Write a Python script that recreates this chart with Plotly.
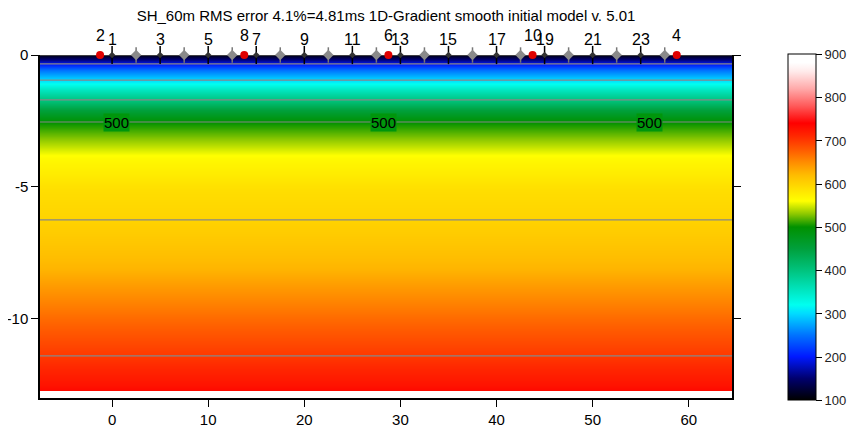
import plotly.graph_objects as go

# ---------------- data ----------------
title_text = "SH_60m RMS error 4.1%=4.81ms 1D-Gradient smooth initial model v. 5.01"

# 1D velocity profile (depth in m, velocity in m/s)
depths = [0.0, -0.12, -0.34, -0.57, -0.95, -1.30, -1.70, -2.10, -2.54, -3.20, -3.90,
          -5.10, -6.25, -7.20, -8.10, -8.70, -10.0, -11.40, -11.90, -12.50, -12.65]
velocities = [110, 140, 200, 250, 300, 350, 400, 450, 500, 530, 565,
              590, 600, 612, 625, 640, 670, 700, 712, 726, 732]
profile_x = [-7.5, 64.5]

contour_levels = [200, 300, 400, 500, 600, 700]
label_level = 500
label_x = [0.5, 28.2, 55.9]

# receivers (labeled odd numbers, unlabeled even numbers)
rec_lab_x = [0, 5, 10, 15, 20, 25, 30, 35, 40, 45, 50, 55]
rec_lab_text = ["1", "3", "5", "7", "9", "11", "13", "15", "17", "19", "21", "23"]
rec_unl_x = [2.5, 7.5, 12.5, 17.5, 22.5, 27.5, 32.5, 37.5, 42.5, 47.5, 52.5, 57.5]

# shots
shot_x = [-1.25, 13.75, 28.75, 43.75, 58.75]
shot_text = ["2", "8", "6", "10", "4"]

x_tick_vals = [0, 10, 20, 30, 40, 50, 60]
y_tick_vals = [0, -5, -10]
y_tick_text = ["0", "-5", "-10"]
cbar_ticks = [100, 200, 300, 400, 500, 600, 700, 800, 900]

# ---------------- styling ----------------
FONT = "Arial, Liberation Sans, sans-serif"
# the page body has an 8px margin, so the figure is 8px smaller and margins shifted
PAGE_OFF = 8
FIG_W, FIG_H = 857 - PAGE_OFF, 428 - PAGE_OFF
ML, MR, MT, MB = 40 - PAGE_OFF, 125, 55 - PAGE_OFF, 30

colorscale = [
    [0.0, "rgb(0,0,0)"],
    [0.0625, "rgb(0,0,110)"],
    [0.125, "rgb(0,25,255)"],
    [0.1875, "rgb(0,115,255)"],
    [0.25, "rgb(0,220,255)"],
    [0.275, "rgb(0,255,240)"],
    [0.375, "rgb(0,195,125)"],
    [0.4375, "rgb(0,160,60)"],
    [0.5, "rgb(0,145,0)"],
    [0.5375, "rgb(140,200,0)"],
    [0.575, "rgb(255,255,0)"],
    [0.6125, "rgb(255,222,0)"],
    [0.65, "rgb(255,188,0)"],
    [0.6875, "rgb(255,140,0)"],
    [0.725, "rgb(255,88,0)"],
    [0.7625, "rgb(255,40,0)"],
    [0.8, "rgb(255,0,0)"],
    [0.85, "rgb(255,90,90)"],
    [0.9, "rgb(255,170,170)"],
    [0.95, "rgb(255,235,235)"],
    [0.975, "rgb(255,255,255)"],
    [1.0, "rgb(255,255,255)"],
]

zgrid = [[v, v] for v in velocities]

fig = go.Figure()

fig.add_trace(go.Heatmap(
    x=profile_x, y=depths, z=zgrid, zsmooth="best",
    colorscale=colorscale, zmin=100, zmax=900,
    colorbar=dict(
        x=(788 - 40) / 692, xanchor="left", xpad=0,
        y=1.0015, yanchor="top", ypad=0,
        lenmode="pixels", len=346, thickness=28,
        outlinecolor="black", outlinewidth=1,
        tickvals=cbar_ticks, ticks="outside", ticklen=6, tickwidth=1,
        tickcolor="black", tickfont=dict(family=FONT, size=13, color="#222"),
    ),
    hoverinfo="skip",
))

for lev in contour_levels:
    fig.add_trace(go.Contour(
        x=profile_x, y=depths, z=zgrid, autocontour=False,
        contours=dict(start=lev, end=lev, size=1, coloring="none"),
        line=dict(color="rgb(135,135,135)", width=1.2),
        showscale=False, hoverinfo="skip",
    ))

# surface line
fig.add_trace(go.Scatter(
    x=profile_x, y=[0, 0], mode="lines",
    line=dict(color="#555", width=1.5), cliponaxis=False, hoverinfo="skip",
    showlegend=False,
))

# receivers
fig.add_trace(go.Scatter(
    x=rec_unl_x, y=[0] * len(rec_unl_x), mode="markers",
    marker=dict(symbol="line-ns", size=11, line=dict(color="#777", width=1.5)),
    cliponaxis=False, showlegend=False, hoverinfo="skip",
))
fig.add_trace(go.Scatter(
    x=rec_unl_x, y=[0] * len(rec_unl_x), mode="markers",
    marker=dict(symbol="diamond", size=8, color="#8a8a8a", line=dict(width=0)),
    cliponaxis=False, showlegend=False, hoverinfo="skip",
))
fig.add_trace(go.Scatter(
    x=rec_lab_x, y=[0] * len(rec_lab_x), mode="markers",
    marker=dict(symbol="line-ns", size=13, line=dict(color="black", width=1.5)),
    cliponaxis=False, showlegend=False, hoverinfo="skip",
))
fig.add_trace(go.Scatter(
    x=rec_lab_x, y=[0] * len(rec_lab_x), mode="markers",
    marker=dict(symbol="diamond", size=5, color="#333", line=dict(width=0)),
    cliponaxis=False, showlegend=False, hoverinfo="skip",
))
# shots
fig.add_trace(go.Scatter(
    x=shot_x, y=[0] * len(shot_x), mode="markers",
    marker=dict(symbol="circle", size=8, color="#e00000", line=dict(width=0)),
    cliponaxis=False, showlegend=False, hoverinfo="skip",
))

annotations = []
for xv, t in zip(rec_lab_x, rec_lab_text):
    annotations.append(dict(x=xv, y=0, text=t, showarrow=False, xanchor="center",
                            yanchor="bottom", yshift=5,
                            font=dict(family=FONT, size=16, color="black")))
for xv, t in zip(shot_x, shot_text):
    annotations.append(dict(x=xv, y=0, text=t, showarrow=False, xanchor="center",
                            yanchor="bottom", yshift=9,
                            font=dict(family=FONT, size=16, color="black")))
label_depth = depths[velocities.index(label_level)]
for xv in label_x:
    annotations.append(dict(x=xv, y=label_depth, text=str(label_level), showarrow=False,
                            xanchor="center", yanchor="middle",
                            bgcolor="rgb(0,150,12)", borderpad=0,
                            font=dict(family=FONT, size=15, color="black")))

fig.update_layout(
    width=FIG_W, height=FIG_H,
    margin=dict(l=ML, r=MR, t=MT, b=MB, autoexpand=False),
    paper_bgcolor="white", plot_bgcolor="white",
    showlegend=False,
    title=dict(text=title_text, x=(386 - PAGE_OFF) / FIG_W, xanchor="center",
               y=1 - (16 - PAGE_OFF) / FIG_H, yanchor="middle",
               font=dict(family=FONT, size=15, color="black")),
    xaxis=dict(range=[-7.5, 64.5], tickvals=x_tick_vals, ticks="outside", ticklen=7,
               tickcolor="black", showline=True, linecolor="black", linewidth=1.5,
               mirror=False, showgrid=False, zeroline=False, automargin=False,
               tickfont=dict(family=FONT, size=15, color="black")),
    yaxis=dict(range=[-13, 0], tickvals=y_tick_vals, ticktext=y_tick_text,
               ticks="outside", ticklen=7, tickcolor="black", showline=True,
               linecolor="black", linewidth=1.5, mirror="ticks", showgrid=False,
               zeroline=False, automargin=False,
               tickfont=dict(family=FONT, size=15, color="black")),
    annotations=annotations,
)

fig.write_html("out.html")
